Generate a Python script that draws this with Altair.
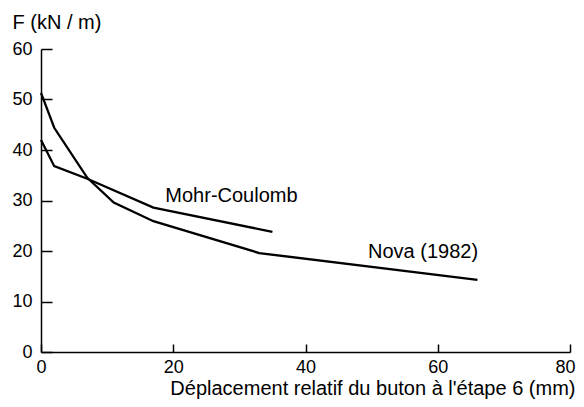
import altair as alt
import pandas as pd

# Data
mc_x = [0, 2, 7, 17, 35]
mc_f = [42.0, 36.8, 34.3, 28.6, 23.8]
nova_x = [0, 2, 7, 11, 17, 33, 66]
nova_f = [51.3, 44.4, 34.5, 29.6, 25.9, 19.6, 14.3]
x_ticks = [0, 20, 40, 60, 80]
y_ticks = [0, 10, 20, 30, 40, 50, 60]

FONT = "Liberation Sans"
W, H = 529, 303

df = pd.concat([
    pd.DataFrame({"x": mc_x, "F": mc_f, "s": "Mohr-Coulomb"}),
    pd.DataFrame({"x": nova_x, "F": nova_f, "s": "Nova (1982)"}),
])

xs = alt.Scale(domain=[0, 80], nice=False)
ys = alt.Scale(domain=[0, 60], nice=False)

x_axis = alt.Axis(values=x_ticks, ticks=False, grid=False, domainColor="black",
                  domainWidth=1.5, labelFont=FONT, labelFontSize=18, labelColor="black",
                  labelPadding=6, labelFlush=True, labelFlushOffset=5,
                  title="Déplacement relatif du buton à l'étape 6 (mm)",
                  titleFont=FONT, titleFontSize=20, titleFontWeight="normal", titleColor="black",
                  titleAlign="right", titleX=534, titleY=42, titleBaseline="alphabetic")
y_axis = alt.Axis(values=y_ticks, ticks=False, grid=False, domainColor="black",
                  domainWidth=1.5, labelFont=FONT, labelFontSize=18, labelColor="black",
                  labelPadding=9, labelFlush=False, title="F (kN / m)", titleAngle=0,
                  titleAlign="left", titleX=-29, titleY=-21, titleBaseline="alphabetic",
                  titleFont=FONT, titleFontSize=20, titleFontWeight="normal", titleColor="black")

lines = alt.Chart(df).mark_line(color="black", strokeWidth=2.3).encode(
    x=alt.X("x:Q", scale=xs, axis=x_axis),
    y=alt.Y("F:Q", scale=ys, axis=y_axis),
    detail="s:N",
)

# inward tick marks drawn as extra axes placed on the existing axis lines
tick_x_axis = alt.Axis(orient="top", offset=-H, values=x_ticks, labels=False, domain=False,
                       grid=False, ticks=True, tickSize=8, tickWidth=1.5, tickColor="black",
                       title=None)
tick_y_axis = alt.Axis(orient="right", offset=-W, values=y_ticks, labels=False, domain=False,
                       grid=False, ticks=True, tickSize=11, tickWidth=1.5, tickColor="black",
                       title=None)
ticks_layer = alt.Chart(df).mark_point(opacity=0).encode(
    x=alt.X("x:Q", scale=xs, axis=tick_x_axis),
    y=alt.Y("F:Q", scale=ys, axis=tick_y_axis),
)

labels = pd.DataFrame({"lx": [18.8, 66.1], "ly": [29.7, 18.6],
                       "t": ["Mohr-Coulomb", "Nova (1982)"], "a": ["l", "r"]})
lab_mc = alt.Chart(labels).transform_filter(alt.datum.a == "l").mark_text(
    font=FONT, fontSize=20, align="left", baseline="alphabetic", color="black").encode(
    x=alt.X("lx:Q", scale=xs, axis=None), y=alt.Y("ly:Q", scale=ys, axis=None), text="t:N")
lab_nova = alt.Chart(labels).transform_filter(alt.datum.a == "r").mark_text(
    font=FONT, fontSize=20, align="right", baseline="alphabetic", color="black").encode(
    x=alt.X("lx:Q", scale=xs, axis=None), y=alt.Y("ly:Q", scale=ys, axis=None), text="t:N")

chart = alt.layer(lines, ticks_layer, lab_mc, lab_nova).resolve_axis(
    x="independent", y="independent"
).properties(
    width=W, height=H,
    autosize=alt.AutoSizeParams(type="none"),
    padding={"left": 33, "top": 41, "right": 6, "bottom": 47},
).configure(background="white", view=alt.ViewConfig(stroke=None))

chart.save("out.html", embed_options={"renderer": "svg", "actions": False})
